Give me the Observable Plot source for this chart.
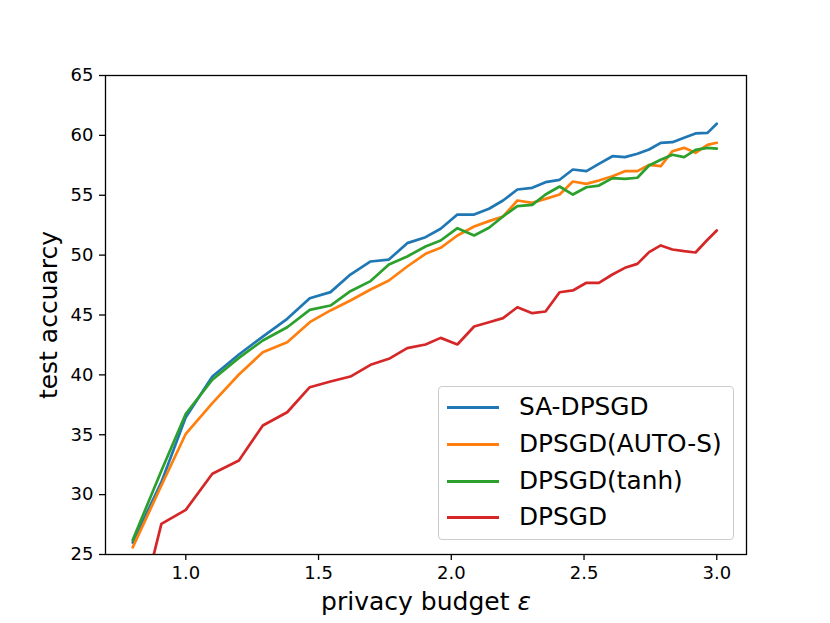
<!DOCTYPE html>
<html>
<head>
<meta charset="utf-8">
<script src="https://cdn.jsdelivr.net/npm/d3@7"></script>
<script src="https://cdn.jsdelivr.net/npm/@observablehq/plot@0.6"></script>
<style>
  body { margin: 0; background: #fff; }
  #wrap { position: relative; width: 830px; height: 623px; font-family: "DejaVu Sans", sans-serif; }
  #legend { position: absolute; left: 438px; top: 386px; width: 296px; height: 154px; box-sizing: border-box;
            border: 1px solid #cccccc; border-radius: 4px; background: rgba(255,255,255,0.8); }
  .row { position: absolute; left: 0; height: 30px; display: flex; align-items: center; }
  .sw { position: absolute; left: 8px; width: 52px; height: 3px; }
  .lab { position: absolute; left: 80px; font-size: 24.8px; line-height: 1; white-space: nowrap; color: #000; }
</style>
</head>
<body>
<div id="wrap"><div id="legend"></div></div>
<script>
// privacy budget epsilon values (x)
const eps = [0.80, 0.908, 1.0, 1.1, 1.2, 1.29, 1.382, 1.467, 1.545, 1.62, 1.696, 1.765, 1.834, 1.903, 1.96,
  2.023, 2.086, 2.142, 2.195, 2.249, 2.305, 2.355, 2.408, 2.458, 2.509, 2.556, 2.607, 2.654, 2.701,
  2.745, 2.789, 2.833, 2.877, 2.92, 2.965, 3.0];

const saDpsgd = [26.0, 31.04, 36.47, 39.86, 41.70, 43.20, 44.68, 46.40, 46.91, 48.38, 49.47, 49.63, 51.00,
  51.50, 52.20, 53.39, 53.39, 53.87, 54.56, 55.48, 55.62, 56.09, 56.29, 57.15, 57.01, 57.62, 58.26,
  58.18, 58.46, 58.82, 59.38, 59.43, 59.80, 60.16, 60.21, 60.97];

const dpsgdAutoS = [25.6, 30.76, 35.08, 37.64, 40.03, 41.89, 42.73, 44.40, 45.38, 46.21, 47.13, 47.88, 49.05,
  50.11, 50.61, 51.64, 52.39, 52.84, 53.23, 54.56, 54.37, 54.70, 55.06, 56.15, 55.95, 56.23, 56.59,
  57.01, 57.01, 57.54, 57.43, 58.68, 58.96, 58.54, 59.21, 59.38];

const dpsgdTanh = [26.2, 32.0, 36.75, 39.59, 41.42, 42.87, 43.98, 45.43, 45.79, 46.99, 47.83, 49.22, 49.89,
  50.72, 51.22, 52.25, 51.64, 52.28, 53.23, 54.09, 54.20, 55.06, 55.73, 55.06, 55.67, 55.81, 56.43,
  56.37, 56.46, 57.48, 57.96, 58.38, 58.18, 58.79, 58.96, 58.90];

const dpsgd = [17.9, 27.56, 28.73, 31.74, 32.85, 35.77, 36.88, 38.97, 39.45, 39.86, 40.84, 41.34, 42.23,
  42.54, 43.09, 42.54, 44.04, 44.40, 44.74, 45.65, 45.15, 45.29, 46.90, 47.05, 47.69, 47.69, 48.38,
  48.94, 49.27, 50.25, 50.81, 50.47, 50.33, 50.22, 51.28, 52.06];

const seriesNames = ["SA-DPSGD", "DPSGD(AUTO-S)", "DPSGD(tanh)", "DPSGD"];
const seriesValues = [saDpsgd, dpsgdAutoS, dpsgdTanh, dpsgd];
const colors = ["#1f77b4", "#ff7f0e", "#2ca02c", "#d62728"];

const xTicks = [1.0, 1.5, 2.0, 2.5, 3.0];
const yTicks = [25, 30, 35, 40, 45, 50, 55, 60, 65];
const xLabel = "privacy budget ε";
const yLabel = "test accuarcy";

const lineMarks = seriesNames.map((name, i) =>
  Plot.line(eps.map((e, k) => ({eps: e, acc: seriesValues[i][k]})), {
    x: "eps", y: "acc", stroke: colors[i], strokeWidth: 2.7, clip: true
  })
);

const chart = Plot.plot({
  width: 830, height: 623,
  marginLeft: 105, marginRight: 84, marginTop: 75, marginBottom: 69,
  style: {fontFamily: "DejaVu Sans, sans-serif", fontSize: "18px", background: "white", color: "black"},
  x: {domain: [0.6975, 3.112]},
  y: {domain: [25, 65]},
  marks: [
    ...lineMarks,
    Plot.frame({stroke: "black", strokeWidth: 1.3}),
    Plot.axisX({ticks: xTicks, tickFormat: d3.format(".1f"), tickSize: 6, tickPadding: 6, label: null, strokeWidth: 1.3}),
    Plot.axisY({ticks: yTicks, tickSize: 6, tickPadding: 6, label: null, strokeWidth: 1.3}),
    Plot.text([xLabel], {frameAnchor: "bottom", dy: 55, lineAnchor: "bottom", textAnchor: "middle", fontSize: 25}),
    Plot.text([yLabel], {frameAnchor: "left", rotate: -90, dx: -48.5, lineAnchor: "bottom", textAnchor: "middle", fontSize: 25})
  ]
});

// italic epsilon like matplotlib mathtext
chart.querySelectorAll("text").forEach(t => {
  if (t.textContent === xLabel) {
    t.textContent = "privacy budget ";
    const ts = document.createElementNS("http://www.w3.org/2000/svg", "tspan");
    ts.setAttribute("font-style", "italic");
    ts.textContent = "ε";
    t.appendChild(ts);
  }
});

const wrap = document.getElementById("wrap");
wrap.insertBefore(chart, wrap.firstChild);

const legend = document.getElementById("legend");
seriesNames.forEach((name, i) => {
  const row = document.createElement("div");
  row.className = "row";
  row.style.top = (20.7 + i * 36.67 - 15) + "px";
  row.style.width = "100%";
  const sw = document.createElement("div");
  sw.className = "sw";
  sw.style.background = colors[i];
  const lab = document.createElement("div");
  lab.className = "lab";
  lab.textContent = name;
  row.appendChild(sw);
  row.appendChild(lab);
  legend.appendChild(row);
});
</script>
</body>
</html>
